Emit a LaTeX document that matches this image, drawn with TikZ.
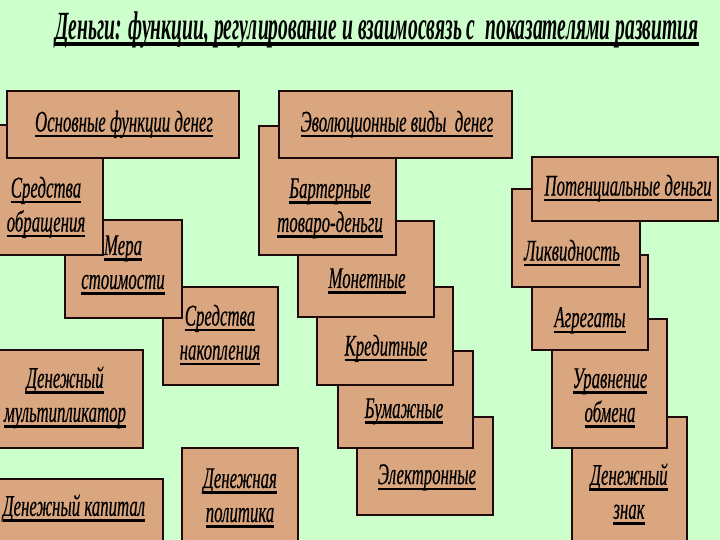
\documentclass[tikz,border=0pt]{standalone}
\usepackage{fontspec}
\setmainfont{Liberation Serif}
\newfontfamily\boxfont[FakeStretch=0.56,FakeBold=0.4]{Liberation Serif}
\newfontfamily\titlefont[FakeStretch=0.49]{Liberation Serif}
\definecolor{bg}{RGB}{204,255,204}
\definecolor{boxfill}{RGB}{217,166,128}
\definecolor{edge}{RGB}{30,10,10}
\newcommand\ulbox[1]{\leavevmode\vtop{\hbox{\raisebox{0pt}[\height][0pt]{#1}}\kern3.5pt\hrule height 2.2pt}}
\newcommand\ultitle[1]{\leavevmode\vtop{\hbox{\raisebox{0pt}[\height][0pt]{#1}}\kern2.5pt\hrule height 4pt}}
\begin{document}
\begin{tikzpicture}[x=1pt,y=-1pt,
  card/.style={fill=boxfill,draw=edge,line width=2.2pt},
  lbl/.style={font=\boxfont\itshape\fontsize{30}{34}\selectfont,align=center,inner sep=0pt,text=black},
  ttl/.style={font=\titlefont\bfseries\itshape\fontsize{40}{44}\selectfont,inner sep=0pt,text=black}]
\fill[bg] (0,0) rectangle (720,540);
\clip (0,0) rectangle (720,540);
% left column
\draw[card] (-5,479) rectangle (163,545);
\draw[card] (182,448) rectangle (298,545);
\draw[card] (-5,350) rectangle (143,448);
\draw[card] (163,287) rectangle (278,385);
\draw[card] (65,220) rectangle (182,318);
\draw[card] (-5,125) rectangle (103,255);
\draw[card] (7,91) rectangle (239,158);
% middle column
\draw[card] (357,417) rectangle (493,515);
\draw[card] (338,351) rectangle (473,448);
\draw[card] (317,287) rectangle (453,385);
\draw[card] (298,221) rectangle (434,317);
\draw[card] (259,126) rectangle (396,255);
\draw[card] (279,91) rectangle (512,158);
% right column
\draw[card] (572,417) rectangle (687,545);
\draw[card] (552,319) rectangle (667,448);
\draw[card] (532,255) rectangle (648,350);
\draw[card] (512,189) rectangle (640,287);
\draw[card] (532,157) rectangle (718,221);
% title
\node[ttl] (title) at (377,29) {\ultitle{Деньги: функции, регулирование и взаимосвязь с\ \ показателями развития}};
% labels
\node[lbl] (osn) at (124,124) {\ulbox{Основные функции денег}};
\node[lbl] (sobr) at (46,207) {\ulbox{Средства}\\\ulbox{обращения}};
\node[lbl] (mera) at (123,265) {\ulbox{Мера}\\\ulbox{стоимости}};
\node[lbl] (snak) at (220,335) {\ulbox{Средства}\\\ulbox{накопления}};
\node[lbl] (mult) at (65,397) {\ulbox{Денежный}\\\ulbox{мультипликатор}};
\node[lbl] (kap) at (74,508) {\ulbox{Денежный капитал}};
\node[lbl] (pol) at (240,498) {\ulbox{Денежная}\\\ulbox{политика}};
\node[lbl] (evo) at (397,124) {\ulbox{Эволюционные виды\ \ денег}};
\node[lbl] (bart) at (330,208) {\ulbox{Бартерные}\\\ulbox{товаро-деньги}};
\node[lbl] (mon) at (367,281) {\ulbox{Монетные}};
\node[lbl] (kred) at (386,348) {\ulbox{Кредитные}};
\node[lbl] (bum) at (404,411) {\ulbox{Бумажные}};
\node[lbl] (el) at (427,477) {\ulbox{Электронные}};
\node[lbl] (pot) at (628,188) {\ulbox{Потенциальные деньги}};
\node[lbl] (likv) at (572,253) {\ulbox{Ликвидность}};
\node[lbl] (agr) at (590,320) {\ulbox{Агрегаты}};
\node[lbl] (urav) at (610,398) {\ulbox{Уравнение}\\\ulbox{обмена}};
\node[lbl] (znak) at (629,494) {\ulbox{Денежный}\\\ulbox{знак}};
\end{tikzpicture}
\end{document}
